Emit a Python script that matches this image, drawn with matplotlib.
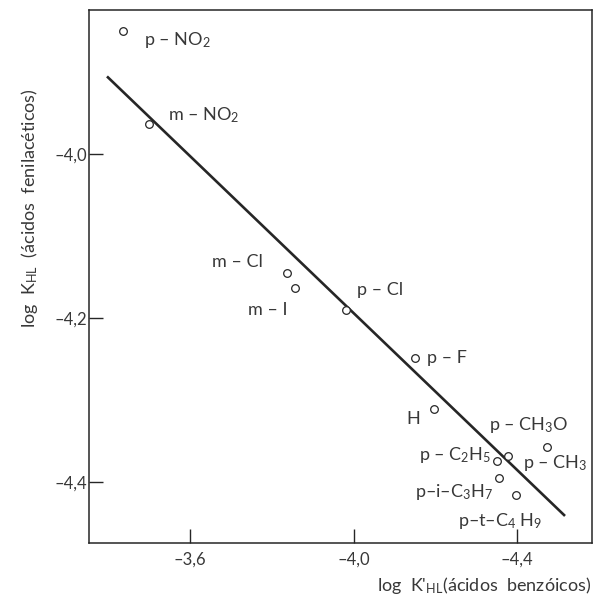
import matplotlib
matplotlib.use("Agg")
import matplotlib.pyplot as plt

# Substituted acids: log K (benzoic) vs log K (phenylacetic)
substituents = ["p-NO2", "m-NO2", "m-Cl", "m-I", "p-Cl", "p-F", "H",
                "p-CH3O", "p-CH3", "p-C2H5", "p-iPr", "p-tBu"]
log_k_benzoic = [-3.436, -3.500, -3.837, -3.857, -3.981, -4.150, -4.197,
                 -4.473, -4.378, -4.351, -4.355, -4.397]
log_k_phenylacetic = [-3.850, -3.963, -4.145, -4.163, -4.190, -4.248, -4.310,
                      -4.357, -4.368, -4.374, -4.395, -4.415]
point_labels = [r"p – NO$_2$", r"m – NO$_2$", "m – Cl", "m – I", "p – Cl",
                "p – F", "H", r"p – CH$_3$O", r"p – CH$_3$", r"p – C$_2$H$_5$",
                r"p–i–C$_3$H$_7$", r"p–t–C$_4$ H$_9$"]

# Regression line end points
fit_x = [-3.397, -4.517]
fit_y = [-3.905, -4.441]

x_ticks = [-3.6, -4.0, -4.4]
x_tick_labels = ["–3,6", "–4,0", "–4,4"]
y_ticks = [-4.0, -4.2, -4.4]
y_tick_labels = ["–4,0", "–4,2", "–4,4"]

plt.rcParams["font.family"] = ["Lato", "DejaVu Sans"]
plt.rcParams["mathtext.fontset"] = "custom"
plt.rcParams["mathtext.rm"] = "Lato"
plt.rcParams["mathtext.it"] = "Lato"
plt.rcParams["mathtext.bf"] = "Lato"

text_color = "#383838"
ink = "#262626"

fig = plt.figure(figsize=(5.94, 6.0), dpi=100)
ax = fig.add_axes([89 / 594, 57 / 600, 503 / 594, 533 / 600])

ax.plot(fit_x, fit_y, color=ink, lw=1.9, solid_capstyle="butt", zorder=2)
ax.plot(log_k_benzoic, log_k_phenylacetic, linestyle="none", marker="o",
        markersize=5.5, markerfacecolor="white", markeredgecolor=ink,
        markeredgewidth=0.9, zorder=3)

# label offsets in pixels (dx, dy, horizontal alignment)
offsets = {
    "p-NO2": (21, -9, "left"),
    "m-NO2": (19, 9, "left"),
    "m-Cl": (-24, 11, "right"),
    "m-I": (-8, -22, "right"),
    "p-Cl": (11, 20, "left"),
    "p-F": (12, 0, "left"),
    "H": (-14, -10, "right"),
    "p-CH3O": (-58, 22, "left"),
    "p-CH3": (15, -7, "left"),
    "p-C2H5": (-6, 6, "right"),
    "p-iPr": (-6, -14, "right"),
    "p-tBu": (-58, -26, "left"),
}
for name, lab, xv, yv in zip(substituents, point_labels, log_k_benzoic,
                             log_k_phenylacetic):
    dx, dy, ha = offsets[name]
    ax.annotate(lab, (xv, yv), xytext=(dx, dy), textcoords="offset pixels",
                ha=ha, va="center", fontsize=13, color=text_color)

ax.set_xlim(-3.353, -4.583)
ax.set_ylim(-4.474, -3.824)
ax.set_xticks(x_ticks)
ax.set_xticklabels(x_tick_labels)
ax.set_yticks(y_ticks)
ax.set_yticklabels(y_tick_labels)
ax.tick_params(axis="both", direction="in", length=10, width=1.0,
               colors=ink, labelcolor=text_color, labelsize=12)
ax.tick_params(axis="x", pad=6)
ax.tick_params(axis="y", pad=1)
for side in ax.spines.values():
    side.set_linewidth(1.1)
    side.set_color(ink)

fig.text(30 / 594, 1 - 208 / 600, r"log  K$_{HL}$  (ácidos  fenilacéticos)",
         rotation=90, ha="center", va="center", fontsize=13,
         color=text_color)
fig.text(377 / 594, 1 - 585 / 600, r"log  K$'_{HL}$(ácidos  benzóicos)",
         ha="left", va="center", fontsize=13, color=text_color)

fig.savefig("out.png", dpi=100, facecolor="white")
